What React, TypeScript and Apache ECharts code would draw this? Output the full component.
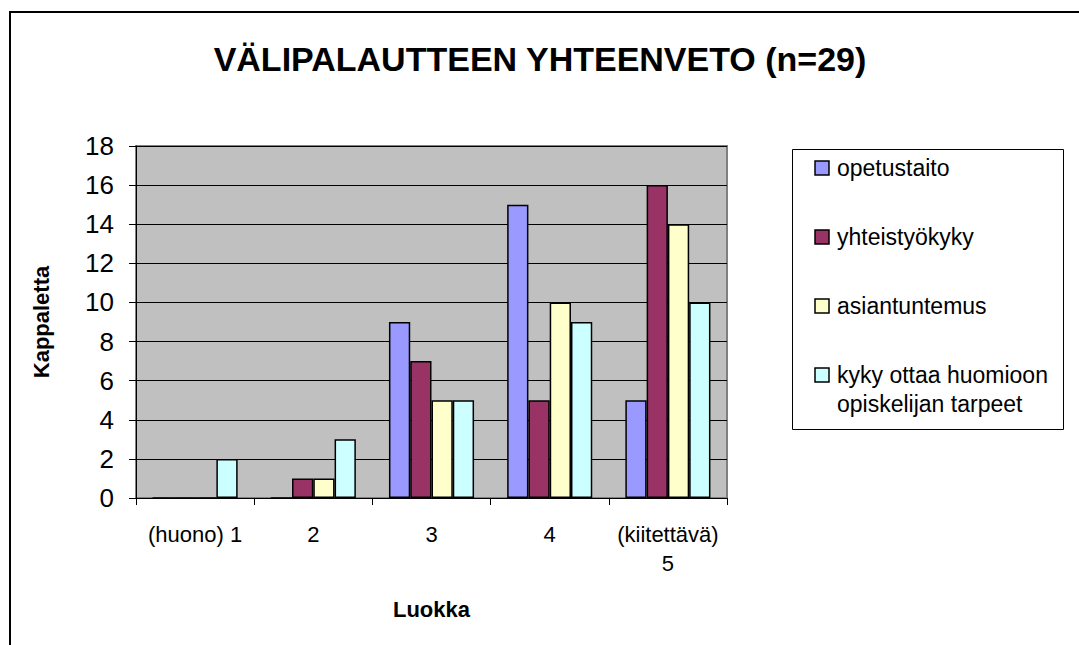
import React, { useEffect, useRef } from "react";
import * as echarts from "echarts";

const categories = ["(huono) 1", "2", "3", "4", "(kiitettävä)\n5"];
const seriesNames = [
  "opetustaito",
  "yhteistyökyky",
  "asiantuntemus",
  "kyky ottaa huomioon\nopiskelijan tarpeet",
];
const opetustaito = [0, 0, 9, 15, 5];
const yhteistyokyky = [0, 1, 7, 5, 16];
const asiantuntemus = [0, 1, 5, 10, 14];
const kykyOttaa = [2, 3, 5, 9, 10];
const seriesValues = [opetustaito, yhteistyokyky, asiantuntemus, kykyOttaa];
const colors = ["#9999FF", "#993366", "#FFFFCC", "#CCFFFF"];
const yTicks = { min: 0, max: 18, interval: 2 };

const FONT = "'Liberation Sans', Arial, sans-serif";

export default function App() {
  const ref = useRef<HTMLDivElement>(null);
  useEffect(() => {
    document.body.style.margin = "0";
    const chart = echarts.init(ref.current!, null, { renderer: "svg" });
    const legendItems: any[] = [];
    seriesNames.forEach((name, i) => {
      const cy = 168 + i * 69;
      legendItems.push({
        type: "rect",
        shape: { x: 815, y: cy - 7, width: 14, height: 14 },
        style: { fill: colors[i], stroke: "#000", lineWidth: 1.5 },
      });
      legendItems.push({
        type: "text",
        x: 837,
        y: cy - 14.5,
        style: {
          text: name,
          font: `23px ${FONT}`,
          fill: "#000",
          lineHeight: 29,
          verticalAlign: "top",
        },
      });
    });
    chart.setOption({
      animation: false,
      backgroundColor: "#fff",
      textStyle: { fontFamily: FONT },
      title: {
        text: "VÄLIPALAUTTEEN YHTEENVETO (n=29)",
        left: 535,
        textAlign: "center",
        top: 37,
        textStyle: { fontSize: 34, fontWeight: "bold", color: "#000", fontFamily: FONT },
      },
      grid: {
        left: 136,
        top: 146,
        width: 591,
        height: 352,
        show: true,
        backgroundColor: "#C0C0C0",
        borderColor: "#808080",
        borderWidth: 2,
      },
      xAxis: {
        type: "category",
        data: categories,
        name: "Luokka",
        nameLocation: "middle",
        nameGap: 100,
        nameTextStyle: { fontSize: 22, fontWeight: "bold", color: "#000", fontFamily: FONT },
        axisLine: { lineStyle: { color: "#000", width: 1 } },
        axisTick: { show: true, length: 7, lineStyle: { color: "#000" } },
        axisLabel: {
          color: "#000",
          fontSize: 22,
          lineHeight: 29,
          margin: 22,
          interval: 0,
          fontFamily: FONT,
        },
      },
      yAxis: {
        type: "value",
        min: yTicks.min,
        max: yTicks.max,
        interval: yTicks.interval,
        name: "Kappaletta",
        nameLocation: "middle",
        nameGap: 84,
        nameRotate: 90,
        nameTextStyle: { fontSize: 22, fontWeight: "bold", color: "#000", fontFamily: FONT },
        axisLine: { show: true, lineStyle: { color: "#000", width: 1 } },
        axisTick: { show: true, length: 7, lineStyle: { color: "#000" } },
        axisLabel: { color: "#000", fontSize: 26, margin: 22, fontFamily: FONT },
        splitLine: { show: true, lineStyle: { color: "#000", width: 1 } },
      },
      series: seriesValues.map((vals, i) => ({
        type: "bar",
        name: seriesNames[i],
        data: vals,
        barGap: "0%",
        barCategoryGap: "28%",
        itemStyle: { color: colors[i], borderColor: "#000", borderWidth: 1.5 },
      })),
      graphic: [
        {
          type: "rect",
          shape: { x: 10, y: 12, width: 1200, height: 800 },
          style: { fill: "none", stroke: "#000", lineWidth: 2 },
          z: -1,
        },
        {
          type: "rect",
          shape: { x: 792.5, y: 149.5, width: 271, height: 280 },
          style: { fill: "#fff", stroke: "#000", lineWidth: 1 },
        },
        ...legendItems,
      ],
    });
    return () => chart.dispose();
  }, []);
  return <div ref={ref} style={{ width: 1079, height: 645 }} />;
}
